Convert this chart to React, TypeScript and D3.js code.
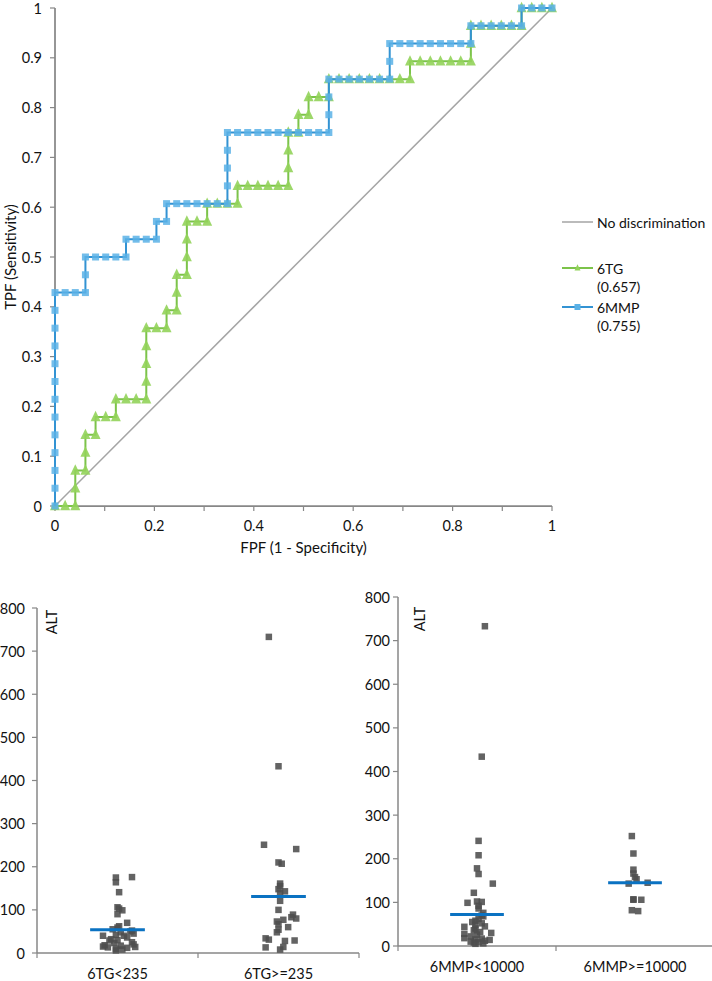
import React from "react";
import * as d3 from "d3";

// ---------- ROC data (counts of false positives / true positives) ----------
const N_NEG = 49;
const N_POS = 28;

const mmpFP = [0,0,0,0,0,0,0,0,0,0,0,0,0, 1,2,3, 3,3, 4,5,6,7, 7, 8,9,10, 10, 11, 11, 12,13,14,15,16,17, 17,17,17,17, 18,19,20,21,22,23,24,25,26,27, 27,27,27, 28,29,30,31,32,33, 33,33, 34,35,36,37,38,39,40,41, 41, 42,43,44,45,46, 46, 47,48,49];
const mmpTP = [0,1,2,3,4,5,6,7,8,9,10,11,12, 12,12,12, 13,14, 14,14,14,14, 15, 15,15,15, 16, 16, 17, 17,17,17,17,17,17, 18,19,20,21, 21,21,21,21,21,21,21,21,21,21, 22,23,24, 24,24,24,24,24,24, 25,26, 26,26,26,26,26,26,26,26, 27, 27,27,27,27,27, 28, 28,28,28];

const tgFP = [0,1,2, 2,2, 3, 3,3, 4, 4, 5,6, 6, 7,8,9, 9,9,9,9, 10,11, 11, 12, 12,12, 13, 13,13,13, 14,15, 15, 16,17,18, 18, 19,20,21,22,23, 23,23,23, 24, 24, 25, 25, 26,27, 27, 28,29,30,31,32,33,34,35, 35, 36,37,38,39,40,41, 41,41, 42,43,44,45,46, 46, 47,48,49];
const tgTP = [0,0,0, 1,2, 2, 3,4, 4, 5, 5,5, 6, 6,6,6, 7,8,9,10, 10,10, 11, 11, 12,13, 13, 14,15,16, 16,16, 17, 17,17,17, 18, 18,18,18,18,18, 19,20,21, 21, 22, 22, 23, 23,23, 24, 24,24,24,24,24,24,24,24, 25, 25,25,25,25,25,25, 26,27, 27,27,27,27,27, 28, 28,28,28];

const rocXTicks = [0, 0.1, 0.2, 0.3, 0.4, 0.5, 0.6, 0.7, 0.8, 0.9, 1];
const rocXLabels = ["0", "0.2", "0.4", "0.6", "0.8", "1"];
const rocXLabelVals = [0, 0.2, 0.4, 0.6, 0.8, 1];
const rocYTicks = [0, 0.1, 0.2, 0.3, 0.4, 0.5, 0.6, 0.7, 0.8, 0.9, 1];
const rocYLabels = ["0", "0.1", "0.2", "0.3", "0.4", "0.5", "0.6", "0.7", "0.8", "0.9", "1"];

const legendNames = ["No discrimination", "6TG", "(0.657)", "6MMP", "(0.755)"];

// ---------- ALT scatter data ----------
const tgCats = ["6TG<235", "6TG>=235"];
const tgLowALT = [175,176,164,141,106,103,99,90,70,59,55,52,50,45,42,40,40,36,32,30,29,25,23,20,17,15,14,13,12,10,8,6,18,48,62];
const tgLowJit = [-0.01,0.09,-0.01,0.01,0,0.01,0.03,0,0.06,0,-0.03,0.09,0.08,0.1,-0.01,-0.09,0.04,0.06,-0.04,0,-0.05,0.09,-0.02,0.1,0.02,-0.09,0.11,-0.06,0.06,-0.01,0.03,-0.01,-0.08,0.02,0.01];
const tgHighALT = [733,433,251,241,210,207,161,155,148,143,139,121,100,89,83,80,77,73,67,60,54,48,34,31,28,29,14,13,8];
const tgHighJit = [-0.06,0,-0.09,0.11,0,0.02,0.01,0.01,0,0.04,0.01,0.01,0,0.09,0.08,0.11,0.03,-0.01,0,0.06,0,-0.01,-0.08,-0.06,0.04,0.1,0.03,-0.08,0.01];
const tgMeans = [54, 131];

const mmpCats = ["6MMP<10000", "6MMP>=10000"];
const mmpLowALT = [733,434,241,208,178,165,143,122,99,102,101,92,86,76,70,68,62,58,55,52,48,45,44,40,36,32,30,28,26,22,18,17,15,14,12,10,9,8,6,5];
const mmpLowJit = [0.05,0.03,0.01,0.01,0,0.01,0.1,-0.02,-0.06,0,0.03,0.01,0.01,0.04,0.03,0.04,0.01,-0.01,-0.03,0.03,-0.01,0.05,-0.08,-0.01,-0.02,0.02,0.09,-0.08,0,-0.04,-0.08,0.03,-0.01,0.08,0.05,-0.04,0.01,-0.02,0.04,-0.01];
const mmpHighALT = [252,212,175,166,158,153,143,145,107,106,106,82,80];
const mmpHighJit = [-0.02,-0.01,-0.01,-0.01,0,0.01,-0.04,0.08,-0.01,-0.01,0.04,-0.02,0.02];
const mmpMeans = [72, 145];

const altTicks = [0, 100, 200, 300, 400, 500, 600, 700, 800];

const FONT = "Lato, 'Open Sans', sans-serif";
const AXIS = "#878787";
const TXT = "#111";

function Scatter(props: {
  x0: number; x1: number; y0: number; y1: number; labelX: number; altX: number; altY: number;
  cats: string[]; groups: number[][]; jits: number[][]; means: number[];
}) {
  const { x0, x1, y0, y1, labelX, altX, altY, cats, groups, jits, means } = props;
  const xs = d3.scaleBand<string>().domain(cats).range([x0, x1]).padding(0);
  const ys = d3.scaleLinear().domain([0, 800]).range([y0, y1]);
  const bw = xs.bandwidth();
  const sq = 6.5;
  return (
    <g>
      {altTicks.map((t) => (
        <g key={t}>
          <line x1={x0 - 5} x2={x0} y1={ys(t)} y2={ys(t)} stroke={AXIS} strokeWidth={1.2} />
          <text x={labelX} y={ys(t)} textAnchor="end" dominantBaseline="central" fontSize={14.5} fontFamily={FONT} fill={TXT}>{t}</text>
        </g>
      ))}
      <line x1={x0} x2={x0} y1={y0} y2={y1} stroke={AXIS} strokeWidth={1.5} />
      <line x1={x0} x2={x1} y1={y0} y2={y0} stroke={AXIS} strokeWidth={1.5} />
      {[x0, x0 + bw, x1].map((t, i) => (
        <line key={i} x1={t} x2={t} y1={y0} y2={y0 + 5} stroke={AXIS} strokeWidth={1.2} />
      ))}
      {cats.map((c) => (
        <text key={c} x={(xs(c) as number) + bw / 2} y={y0 + 20} textAnchor="middle" dominantBaseline="central" fontSize={14.5} fontFamily={FONT} fill={TXT}>{c}</text>
      ))}
      <text transform={`translate(${altX},${altY}) rotate(-90)`} textAnchor="middle" dominantBaseline="central" fontSize={14.5} fontFamily={FONT} fill={TXT}>ALT</text>
      {groups.map((vals, gi) =>
        vals.map((v, i) => {
          const cx = (xs(cats[gi]) as number) + bw / 2 + jits[gi][i] * bw;
          return <rect key={gi + "-" + i} x={cx - sq / 2} y={ys(v) - sq / 2} width={sq} height={sq} fill="#4d4d4d" fillOpacity={0.88} />;
        })
      )}
      {means.map((m, gi) => {
        const cx = (xs(cats[gi]) as number) + bw / 2;
        return <line key={gi} x1={cx - 0.17 * bw} x2={cx + 0.17 * bw} y1={ys(m)} y2={ys(m)} stroke="#0a72c2" strokeWidth={3} />;
      })}
    </g>
  );
}

export default function App() {
  const W = 712, H = 981;
  const rx = d3.scaleLinear().domain([0, 1]).range([55, 552]);
  const ry = d3.scaleLinear().domain([0, 1]).range([506, 8]);
  const mmpPts: [number, number][] = mmpFP.map((f, i) => [f / N_NEG, mmpTP[i] / N_POS]);
  const tgPts: [number, number][] = tgFP.map((f, i) => [f / N_NEG, tgTP[i] / N_POS]);
  const line = d3.line<[number, number]>().x((d) => rx(d[0])).y((d) => ry(d[1]));

  const blueLine = "#3393d3";
  const blueFill = "#5ab1e6";
  const greenLine = "#7cc34a";
  const greenFill = "#92d35a";
  const tri = (cx: number, cy: number, s: number) =>
    `M${cx},${cy - s * 0.62}L${cx + s / 2},${cy + s * 0.42}L${cx - s / 2},${cy + s * 0.42}Z`;

  const legX0 = 562, legX1 = 593, legTX = 597;

  return (
    <svg width={W} height={H} style={{ position: "absolute", left: 0, top: 0, background: "#fff" }}>
      <rect x={0} y={0} width={W} height={H} fill="#fff" />
      {/* ROC axes */}
      {rocYTicks.map((t, i) => (
        <g key={"yt" + i}>
          <line x1={50} x2={55} y1={ry(t)} y2={ry(t)} stroke={AXIS} strokeWidth={1.2} />
          <text x={42} y={ry(t)} textAnchor="end" dominantBaseline="central" fontSize={14.5} fontFamily={FONT} fill={TXT}>{rocYLabels[i]}</text>
        </g>
      ))}
      {rocXTicks.map((t, i) => (
        <line key={"xt" + i} x1={rx(t)} x2={rx(t)} y1={506} y2={511} stroke={AXIS} strokeWidth={1.2} />
      ))}
      {rocXLabelVals.map((t, i) => (
        <text key={"xl" + i} x={rx(t)} y={525} textAnchor="middle" dominantBaseline="central" fontSize={14.5} fontFamily={FONT} fill={TXT}>{rocXLabels[i]}</text>
      ))}
      <line x1={55} x2={55} y1={ry(0)} y2={ry(1)} stroke={AXIS} strokeWidth={1.75} />
      <line x1={rx(0)} x2={rx(1)} y1={506} y2={506} stroke={AXIS} strokeWidth={1.75} />
      <text x={rx(0.5)} y={547} textAnchor="middle" dominantBaseline="central" fontSize={15} fontFamily={FONT} fill={TXT}>FPF (1 - Specificity)</text>
      <text transform={`translate(10,${ry(0.5)}) rotate(-90)`} textAnchor="middle" dominantBaseline="central" fontSize={15} fontFamily={FONT} fill={TXT}>TPF (Sensitivity)</text>

      {/* diagonal */}
      <line x1={rx(0)} y1={ry(0)} x2={rx(1)} y2={ry(1)} stroke="#a5a5a5" strokeWidth={1.5} />

      {/* 6TG */}
      <path d={line(tgPts) || ""} fill="none" stroke={greenLine} strokeWidth={2} />
      {tgPts.map((p, i) => (
        <path key={"tg" + i} d={tri(rx(p[0]), ry(p[1]), 10)} fill={greenFill} fillOpacity={0.9} />
      ))}
      {/* 6MMP */}
      <path d={line(mmpPts) || ""} fill="none" stroke={blueLine} strokeWidth={2} />
      {mmpPts.map((p, i) => (
        <rect key={"mm" + i} x={rx(p[0]) - 3.5} y={ry(p[1]) - 3.5} width={7} height={7} fill={blueFill} fillOpacity={0.85} />
      ))}

      {/* legend */}
      <line x1={legX0} x2={legX1} y1={222} y2={222} stroke="#a5a5a5" strokeWidth={1.5} />
      <text x={legTX} y={222} dominantBaseline="central" fontSize={14} fontFamily={FONT} fill={TXT}>{legendNames[0]}</text>
      <line x1={legX0} x2={legX1} y1={268} y2={268} stroke={greenLine} strokeWidth={2} />
      <path d={tri((legX0 + legX1) / 2, 268, 6)} fill={greenFill} />
      <text x={legTX} y={268} dominantBaseline="central" fontSize={14} fontFamily={FONT} fill={TXT}>{legendNames[1]}</text>
      <text x={legTX} y={286} dominantBaseline="central" fontSize={14} fontFamily={FONT} fill={TXT}>{legendNames[2]}</text>
      <line x1={legX0} x2={legX1} y1={307} y2={307} stroke={blueLine} strokeWidth={2} />
      <rect x={(legX0 + legX1) / 2 - 3} y={304} width={6} height={6} fill={blueFill} />
      <text x={legTX} y={307} dominantBaseline="central" fontSize={14} fontFamily={FONT} fill={TXT}>{legendNames[3]}</text>
      <text x={legTX} y={325} dominantBaseline="central" fontSize={14} fontFamily={FONT} fill={TXT}>{legendNames[4]}</text>

      {/* ALT scatters */}
      <Scatter x0={37} x1={359} y0={953} y1={608} labelX={25} altX={51} altY={622}
        cats={tgCats} groups={[tgLowALT, tgHighALT]} jits={[tgLowJit, tgHighJit]} means={tgMeans} />
      <Scatter x0={398} x1={714} y0={946} y1={597} labelX={390} altX={419} altY={619}
        cats={mmpCats} groups={[mmpLowALT, mmpHighALT]} jits={[mmpLowJit, mmpHighJit]} means={mmpMeans} />
    </svg>
  );
}
